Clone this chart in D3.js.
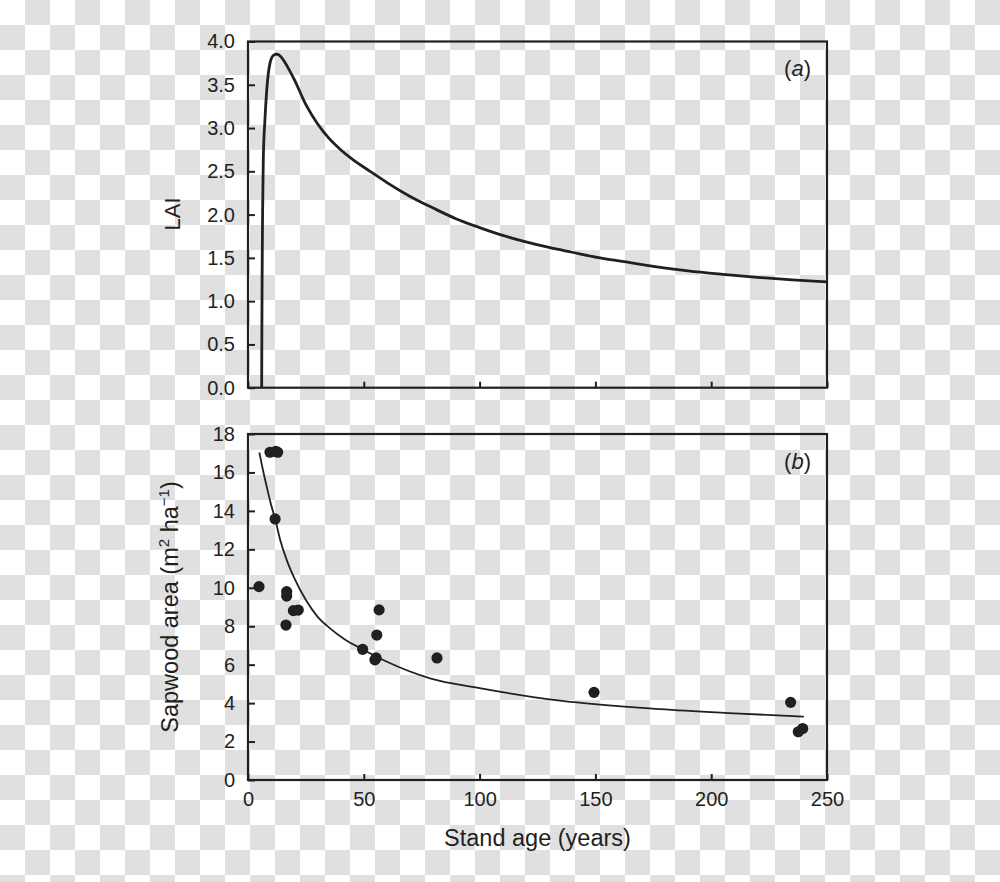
<!DOCTYPE html>
<html>
<head>
<meta charset="utf-8">
<script src="https://cdn.jsdelivr.net/npm/d3@7"></script>
<style>
  html, body { margin: 0; padding: 0; }
  svg { display: block; }
  text { font-family: "Liberation Sans", Arial, Helvetica, sans-serif; fill: #231f20; }
</style>
</head>
<body>
<svg id="chart" width="1000" height="882"></svg>
<script>
// ---- Data ----
// Panel (a): LAI vs stand age (curve)
const laiAge = [5.9, 6.0, 6.1, 6.3, 6.6, 7.3, 8.1, 9.5, 11, 12.4, 14, 17, 20, 25, 30, 35, 40, 45, 52.7, 60, 70, 80, 90, 100, 110, 120, 130, 140, 152, 165, 175, 190, 205, 220, 235, 250];
const laiValue = [0, 0.7, 1.3, 2.0, 2.63, 3.09, 3.44, 3.75, 3.84, 3.853, 3.83, 3.71, 3.56, 3.27, 3.05, 2.88, 2.75, 2.64, 2.5, 2.37, 2.21, 2.075, 1.95, 1.85, 1.76, 1.685, 1.62, 1.565, 1.50, 1.445, 1.403, 1.35, 1.31, 1.275, 1.245, 1.222];

// Panel (b): sapwood area observations
const obsAge = [4.75, 9.5, 12.0, 12.8, 11.7, 16.7, 16.7, 19.6, 21.7, 16.4, 49.5, 54.8, 55.3, 55.6, 56.6, 81.6, 149.4, 234.3, 237.6, 239.5];
const obsSapwood = [10.06, 17.05, 17.1, 17.05, 13.58, 9.8, 9.57, 8.81, 8.84, 8.06, 6.8, 6.25, 6.35, 7.54, 8.85, 6.35, 4.56, 4.04, 2.51, 2.68];

// Panel (b): fitted curve
const fitAge = [4.9, 6.5, 8, 9.8, 11.7, 14, 16.7, 20, 25, 30, 35.4, 42, 49.5, 60, 78.6, 100, 134.7, 177.9, 210, 240];
const fitSapwood = [17.04, 16.1, 15.3, 14.4, 13.58, 12.45, 11.45, 10.5, 9.36, 8.5, 7.89, 7.3, 6.8, 6.15, 5.29, 4.78, 4.13, 3.69, 3.47, 3.29];

// Axis ticks and labels
const xTicks = [0, 50, 100, 150, 200, 250];
const laiTicks = [0, 0.5, 1, 1.5, 2, 2.5, 3, 3.5, 4];
const sapTicks = [0, 2, 4, 6, 8, 10, 12, 14, 16, 18];
const xTitle = "Stand age (years)";
const laiTitle = "LAI";
const panelLabels = ["a", "b"];

// ---- Drawing ----
const svg = d3.select("#chart");
const ink = "#231f20";

// transparent-look checkerboard background
const defs = svg.append("defs");
const pat = defs.append("pattern").attr("id", "checker").attr("patternUnits", "userSpaceOnUse")
  .attr("width", 50).attr("height", 50);
pat.append("rect").attr("width", 50).attr("height", 50).attr("fill", "#ffffff");
pat.append("rect").attr("x", 25).attr("y", 0).attr("width", 25).attr("height", 25).attr("fill", "#e0e0e0");
pat.append("rect").attr("x", 0).attr("y", 25).attr("width", 25).attr("height", 25).attr("fill", "#e0e0e0");
svg.append("rect").attr("width", 1000).attr("height", 882).attr("fill", "url(#checker)");

const left = 248, right = 827;
const x = d3.scaleLinear().domain([0, 250]).range([left, right]);
const yA = d3.scaleLinear().domain([0, 4]).range([387.7, 41.5]);
const yB = d3.scaleLinear().domain([0, 18]).range([780, 434]);

function styleAxis(g) {
  g.select(".domain").remove();
  g.selectAll(".tick line").attr("stroke", ink).attr("stroke-width", 2);
  g.selectAll(".tick text").attr("fill", ink).style("font-size", "20px")
    .style("font-family", '"Liberation Sans", Arial, sans-serif');
}

// Panel (a)
const gA = svg.append("g");
gA.append("g").attr("transform", `translate(${left},0)`)
  .call(d3.axisLeft(yA).tickValues(laiTicks).tickFormat(d3.format(".1f")).tickSizeInner(-7).tickSizeOuter(0).tickPadding(13))
  .call(styleAxis);
gA.append("g").attr("transform", `translate(0,${yA(0)})`)
  .call(d3.axisBottom(x).tickValues(xTicks).tickFormat("").tickSizeInner(-6).tickSizeOuter(0))
  .call(styleAxis);
const lineA = d3.line().x((d, i) => x(laiAge[i])).y(d => yA(d)).curve(d3.curveMonotoneX);
gA.append("path").attr("d", lineA(laiValue)).attr("fill", "none").attr("stroke", ink)
  .attr("stroke-width", 2.8).attr("stroke-linejoin", "round");
gA.append("rect").attr("x", left).attr("y", yA(4)).attr("width", right - left).attr("height", yA(0) - yA(4))
  .attr("fill", "none").attr("stroke", ink).attr("stroke-width", 2.2);

// Panel (b)
const gB = svg.append("g");
gB.append("g").attr("transform", `translate(${left},0)`)
  .call(d3.axisLeft(yB).tickValues(sapTicks).tickFormat(d3.format("d")).tickSizeInner(-7).tickSizeOuter(0).tickPadding(13))
  .call(styleAxis);
gB.append("g").attr("transform", `translate(0,${yB(0)})`)
  .call(d3.axisBottom(x).tickValues(xTicks).tickFormat(d3.format("d")).tickSizeInner(-6).tickSizeOuter(0).tickPadding(12))
  .call(styleAxis);
const lineB = d3.line().x((d, i) => x(fitAge[i])).y(d => yB(d)).curve(d3.curveMonotoneX);
gB.append("path").attr("d", lineB(fitSapwood)).attr("fill", "none").attr("stroke", ink)
  .attr("stroke-width", 1.8);
gB.selectAll("circle.obs").data(obsSapwood).enter().append("circle").attr("class", "obs")
  .attr("cx", (d, i) => x(obsAge[i])).attr("cy", d => yB(d)).attr("r", 5.6).attr("fill", ink);
gB.append("rect").attr("x", left).attr("y", yB(18)).attr("width", right - left).attr("height", yB(0) - yB(18))
  .attr("fill", "none").attr("stroke", ink).attr("stroke-width", 2.2);

// Panel labels
[[yA(4), 0], [yB(18), 1]].forEach(([top, i]) => {
  const t = svg.append("text").attr("x", 811).attr("y", top + 34.5).attr("text-anchor", "end")
    .style("font-size", "22px");
  t.append("tspan").text("(");
  t.append("tspan").style("font-style", "italic").text(panelLabels[i]);
  t.append("tspan").text(")");
});

// Axis titles
svg.append("text").attr("x", (left + right) / 2).attr("y", 846).attr("text-anchor", "middle")
  .style("font-size", "23.5px").text(xTitle);
svg.append("text").attr("transform", "translate(180,214) rotate(-90)").attr("text-anchor", "middle")
  .style("font-size", "22px").text(laiTitle);
const sw = svg.append("text").attr("transform", "translate(178,607) rotate(-90)").attr("text-anchor", "middle")
  .style("font-size", "23.5px");
sw.append("tspan").text("Sapwood area (m");
sw.append("tspan").attr("dy", -9).style("font-size", "15px").text("2");
sw.append("tspan").attr("dy", 9).text(" ha");
sw.append("tspan").attr("dy", -9).style("font-size", "15px").text("\u22121");
sw.append("tspan").attr("dy", 9).text(")");
</script>
</body>
</html>
